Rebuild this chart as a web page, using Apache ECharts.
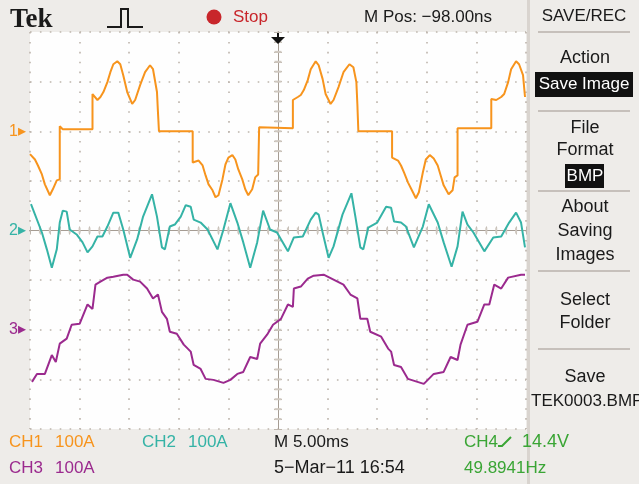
<!DOCTYPE html>
<html><head><meta charset="utf-8">
<script src="https://cdn.jsdelivr.net/npm/echarts/dist/echarts.min.js"></script>
<style>html,body{margin:0;padding:0;background:#eeece9}#c{width:639px;height:484px}</style>
</head><body><div id="c"></div>
<script>
// Time in ms (5 ms/div, trigger at 0 ms); currents in A (100 A/div)
const ch1Time = [-25.0,-24.5,-24.2,-23.8,-23.5,-23.0,-22.7,-22.3,-22.1,-22.0,
  -22.0,-21.8,-21.7,-18.7,-18.7,-18.5,-18.2,-17.9,-17.6,-17.2,
  -16.9,-16.6,-16.2,-15.9,-15.6,-15.2,-14.7,-14.4,-13.9,-13.4,
  -12.9,-12.6,-12.2,-12.1,-12.0,-8.6,-8.6,-8.5,-8.0,-7.6,
  -7.3,-7.0,-6.6,-6.3,-6.0,-5.6,-5.3,-5.0,-4.6,-4.3,
  -4.0,-3.6,-3.3,-3.0,-2.6,-2.3,-2.0,-1.9,-1.9,1.5,
  1.5,1.6,2.0,2.3,2.6,3.0,3.3,3.8,4.1,4.5,
  4.8,5.3,5.6,6.1,6.6,7.2,7.6,7.9,8.0,8.1,
  11.5,11.5,11.7,12.1,12.4,12.7,13.1,13.6,13.9,14.2,
  14.6,14.9,15.3,15.7,16.1,16.4,16.7,17.2,17.6,17.8,
  18.1,18.1,21.5,21.5,21.7,22.0,22.5,22.8,23.2,23.5,
  24.0,24.3,24.7,24.9];
const ch1Amps = [-46,-57,-69,-87,-107,-129,-117,-99,-97,-97,
  10,10,4,4,75,75,63,69,79,99,
  119,135,141,135,113,79,55,63,93,119,
  133,125,79,38,0,0,-63,-63,-59,-69,
  -89,-107,-119,-133,-129,-97,-67,-53,-48,-57,
  -77,-97,-117,-129,-117,-93,-87,-87,8,6,
  63,65,69,73,83,103,125,141,133,105,
  75,55,63,89,119,135,129,99,55,0,
  0,-53,-57,-59,-69,-83,-103,-123,-135,-123,
  -83,-57,-48,-55,-69,-89,-109,-127,-119,-93,
  -89,6,6,65,65,63,69,75,99,125,
  141,135,113,69];

const ch2Time = [-24.9,-24.7,-23.8,-23.3,-22.8,-22.3,-22.0,-21.7,-21.3,-21.0,
  -20.3,-19.7,-19.2,-18.7,-18.2,-17.7,-17.2,-16.6,-16.1,-15.6,
  -14.9,-14.2,-13.6,-12.7,-12.2,-11.7,-11.4,-10.9,-10.4,-9.8,
  -9.3,-8.8,-8.5,-7.8,-7.1,-6.1,-5.5,-4.8,-4.1,-3.5,
  -2.8,-2.1,-1.5,-0.8,-0.1,1.0,1.6,2.5,3.3,3.8,
  4.1,4.5,5.1,5.6,6.5,7.4,7.8,8.3,8.6,9.1,
  10.0,10.9,11.4,11.7,12.4,12.9,13.7,14.6,15.2,16.1,
  16.7,17.5,18.1,18.6,19.1,19.7,20.8,21.7,22.5,23.3,
  24.0,24.5,24.9];
const ch2Amps = [53,53,-4,-38,-75,-38,16,40,38,2,
  -8,-24,-44,-32,-12,-12,8,36,36,2,
  -55,-18,28,73,28,-34,-38,8,12,28,
  51,48,22,16,2,-38,2,55,16,-24,
  -75,-24,40,2,-4,-42,-14,-12,22,36,
  32,-4,-55,-32,32,75,28,-34,-38,6,
  16,48,46,18,16,8,-34,8,53,16,
  -24,-73,-32,38,12,-4,-42,-14,-12,16,
  36,16,-34];

const ch3Time = [-24.8,-24.3,-23.5,-22.8,-22.4,-22.0,-21.3,-20.8,-20.0,-19.2,
  -18.7,-18.4,-17.9,-17.2,-16.6,-15.6,-15.2,-14.6,-13.9,-13.2,
  -12.6,-12.1,-11.7,-11.2,-10.9,-10.2,-9.5,-8.8,-8.5,-7.8,
  -7.3,-6.5,-5.5,-4.8,-4.1,-3.5,-2.8,-2.1,-1.8,-1.1,
  -0.5,0.3,1.0,1.5,1.6,2.3,3.0,3.6,4.6,5.6,
  6.6,7.3,8.0,8.3,9.0,9.3,10.4,11.1,11.4,11.7,
  12.4,13.1,14.7,15.7,16.7,17.4,18.1,18.4,19.1,20.1,
  20.8,21.3,21.8,22.5,23.2,24.5,24.9];
const ch3Amps = [-105,-89,-89,-51,-65,-28,-18,10,12,51,
  42,91,97,105,107,111,111,101,97,83,
  63,71,36,22,-4,-8,-30,-44,-71,-79,
  -99,-101,-107,-101,-89,-85,-55,-59,-28,-10,
  10,22,51,46,83,87,103,109,111,101,
  91,71,63,22,22,-4,-14,-38,-44,-71,
  -75,-99,-109,-89,-85,-55,-61,-30,10,16,
  51,51,91,83,105,111,111];

// Vertical position of each channel's ground marker, in A on the screen scale
const channelOffsets = [200, 0, -200];
const channelColors = ['#f7941d', '#35b3a6', '#9b2a8e'];

const FONT = "'Liberation Sans', Arial, sans-serif";
const GRID_COLOR = '#bdb5ac';
const CROSS_COLOR = '#cfc8c0';

function traceData(times, amps, offset) {
  return times.map((t, i) => [t, amps[i] + offset]);
}

const chart = echarts.init(document.getElementById('c'), null, {renderer: 'canvas'});

const axisCommon = {
  type: 'value',
  axisLabel: {show: false},
  axisLine: {show: true, lineStyle: {color: '#a59c93', width: 1}},
  axisTick: {show: true, inside: true, length: 4, lineStyle: {color: GRID_COLOR}},
  minorTick: {show: true, splitNumber: 5, length: 4, lineStyle: {color: GRID_COLOR}},
  splitLine: {show: false}
};
// dotted division lines; the centre one is left to the cross marks
const dotColorsX = Array.from({length: 11}, (_, i) => i === 5 ? 'rgba(0,0,0,0)' : GRID_COLOR);
const dotColorsY = Array.from({length: 9}, (_, i) => i === 4 ? 'rgba(0,0,0,0)' : GRID_COLOR);

const gfx = [];
function txt(s, x, y, color, size, align) {
  gfx.push({
    type: 'text', silent: true,
    style: {text: s, x: x, y: y, fill: color, font: size + 'px ' + FONT,
      textAlign: align || 'left', textVerticalAlign: 'middle'}
  });
}

// Header
gfx.push({type: 'text', silent: true, style: {text: 'Tek', x: 10, y: 20, fill: '#1a1a1a',
  font: "bold 27px 'Liberation Serif', serif", textAlign: 'left', textVerticalAlign: 'middle'}});
gfx.push({type: 'polyline', silent: true, shape: {points: [[107,27],[121,27],[121,9],[128,9],[128,27],[143,27]]},
  style: {stroke: '#1a1a1a', lineWidth: 2, fill: null}});
gfx.push({type: 'circle', silent: true, shape: {cx: 214, cy: 17, r: 7.5}, style: {fill: '#c8262b'}});
txt('Stop', 233, 17, '#c8262b', 17);
txt('M Pos: \u221298.00ns', 364, 17, '#1a1a1a', 17);
txt('SAVE/REC', 584, 16, '#1a1a1a', 17, 'center');

// Side menu
const menuX = 585;
const sepYs = [32, 111, 191, 271, 349];
sepYs.forEach(y => gfx.push({type: 'line', silent: true, shape: {x1: 538, y1: y, x2: 630, y2: y},
  style: {stroke: '#b8b2ab', lineWidth: 1.5}}));
gfx.push({type: 'rect', silent: true, shape: {x: 535, y: 72, width: 98, height: 25}, style: {fill: '#111'}});
gfx.push({type: 'rect', silent: true, shape: {x: 565, y: 164, width: 39, height: 24}, style: {fill: '#111'}});
gfx.push({type: 'rect', silent: true, shape: {x: 527, y: 0, width: 3, height: 484}, style: {fill: '#d9d4cf'}});
txt('Action', menuX, 58, '#1a1a1a', 18, 'center');
txt('Save Image', menuX - 1, 84, '#ffffff', 17, 'center');
txt('File', menuX, 128, '#1a1a1a', 18, 'center');
txt('Format', menuX, 150, '#1a1a1a', 18, 'center');
txt('BMP', menuX, 176, '#ffffff', 17, 'center');
txt('About', menuX, 207, '#1a1a1a', 18, 'center');
txt('Saving', menuX, 231, '#1a1a1a', 18, 'center');
txt('Images', menuX, 255, '#1a1a1a', 18, 'center');
txt('Select', menuX, 300, '#1a1a1a', 18, 'center');
txt('Folder', menuX, 323, '#1a1a1a', 18, 'center');
txt('Save', menuX, 377, '#1a1a1a', 18, 'center');
txt('TEK0003.BMP', 531, 401, '#1a1a1a', 17, 'left');

// Footer readouts
txt('CH1', 9, 442, channelColors[0], 17);
txt('100A', 55, 442, channelColors[0], 17);
txt('CH2', 142, 442, channelColors[1], 17);
txt('100A', 188, 442, channelColors[1], 17);
txt('M 5.00ms', 274, 442, '#1a1a1a', 17);
txt('CH4', 464, 442, '#3aa535', 17);
gfx.push({type: 'polyline', silent: true, shape: {points: [[498,446],[502,446],[511,437]]},
  style: {stroke: '#3aa535', lineWidth: 2, fill: null}});
txt('14.4V', 522, 442, '#3aa535', 18);
txt('CH3', 9, 468, channelColors[2], 17);
txt('100A', 55, 468, channelColors[2], 17);
txt('5\u2212Mar\u221211 16:54', 274, 468, '#1a1a1a', 18);
txt('49.8941Hz', 464, 468, '#3aa535', 17);

const markerLabels = {};
markerLabels[channelOffsets[0]] = '{a|1\u25B8}';
markerLabels[channelOffsets[1]] = '{b|2\u25B8}';
markerLabels[channelOffsets[2]] = '{c|3\u25B8}';

const option = {
  animation: false,
  backgroundColor: '#eeece9',
  grid: {left: 30, top: 32, width: 496, height: 397, show: true, backgroundColor: '#fefefe', borderWidth: 0},
  xAxis: [
    Object.assign({}, axisCommon, {min: -25, max: 25, interval: 5, position: 'bottom',
      splitLine: {show: true, lineStyle: {color: dotColorsX, type: [1.6, 8.3], width: 1.6}}}),
    Object.assign({}, axisCommon, {min: -25, max: 25, interval: 5, position: 'top'})
  ],
  yAxis: [
    Object.assign({}, axisCommon, {min: -400, max: 400, interval: 100, position: 'left',
      splitLine: {show: true, lineStyle: {color: dotColorsY, type: [1.6, 8.3], width: 1.6}},
      axisLabel: {show: true, margin: 4, fontFamily: FONT, fontSize: 16,
        formatter: v => markerLabels[v] || '',
        rich: {a: {color: channelColors[0], fontSize: 16}, b: {color: channelColors[1], fontSize: 16},
               c: {color: channelColors[2], fontSize: 16}}}}),
    Object.assign({}, axisCommon, {min: -400, max: 400, interval: 100, position: 'right'})
  ],
  graphic: gfx,
  series: [
    {
      // centre cross of the graticule: 1/5-division marks only
      type: 'custom', silent: true, z: 1, clip: false,
      data: [[0, 0]],
      renderItem: function (params, api) {
        const children = [];
        for (let t = -24; t <= 24; t += 1) {
          const p = api.coord([t, 0]);
          children.push({type: 'rect', shape: {x: p[0] - 1, y: p[1] - 3, width: 2, height: 6}, style: {fill: CROSS_COLOR}});
        }
        for (let v = -380; v <= 380; v += 20) {
          const p = api.coord([0, v]);
          children.push({type: 'rect', shape: {x: p[0] - 3.5, y: p[1] - 1, width: 7, height: 2}, style: {fill: CROSS_COLOR}});
        }
        return {type: 'group', children: children};
      }
    },
    {name: 'CH1', type: 'line', data: traceData(ch1Time, ch1Amps, channelOffsets[0]), showSymbol: false,
      lineStyle: {color: channelColors[0], width: 2}, z: 3},
    {name: 'CH2', type: 'line', data: traceData(ch2Time, ch2Amps, channelOffsets[1]), showSymbol: false,
      lineStyle: {color: channelColors[1], width: 2}, z: 3},
    {name: 'CH3', type: 'line', data: traceData(ch3Time, ch3Amps, channelOffsets[2]), showSymbol: false,
      lineStyle: {color: channelColors[2], width: 2}, z: 3}
  ]
};
chart.setOption(option);

// Trigger position arrow on the top edge of the graticule
const trig = chart.convertToPixel({xAxisIndex: 0, yAxisIndex: 0}, [0, 400]);
chart.setOption({graphic: gfx.concat([
  {type: 'rect', silent: true, z: 10, shape: {x: trig[0] - 1, y: trig[1] + 1, width: 2, height: 5}, style: {fill: '#111'}},
  {type: 'polygon', silent: true, z: 10, shape: {points: [[trig[0] - 7, trig[1] + 5], [trig[0] + 7, trig[1] + 5], [trig[0], trig[1] + 12]]},
    style: {fill: '#111'}}
])});
</script>
</body></html>
